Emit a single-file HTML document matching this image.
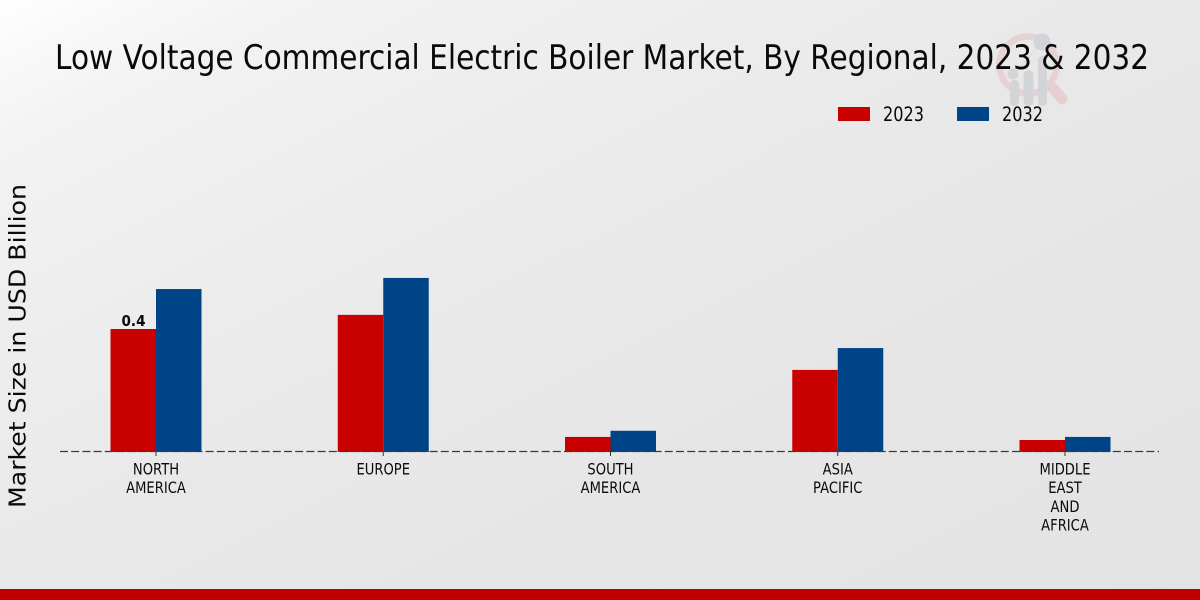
<!DOCTYPE html>
<html lang="en">
<head>
<meta charset="utf-8">
<title>Low Voltage Commercial Electric Boiler Market, By Regional, 2023 &amp; 2032</title>
<style>
html,body{margin:0;padding:0;width:1200px;height:600px;overflow:hidden;background:#e6e6e6}
svg{display:block}
text{font-family:"DejaVu Sans",sans-serif;fill:#0a0a0a}
</style>
</head>
<body>
<svg id="chart" width="1200" height="600" viewBox="0 0 1200 600" xmlns="http://www.w3.org/2000/svg">
  <defs>
    <linearGradient id="bg" x1="0" y1="0" x2="480" y2="960" gradientUnits="userSpaceOnUse">
      <stop offset="0" stop-color="#ffffff"/>
      <stop offset="0.06" stop-color="#f8f8f8"/>
      <stop offset="0.14" stop-color="#f2f2f3"/>
      <stop offset="0.27" stop-color="#eeeeef"/>
      <stop offset="0.5" stop-color="#e8e8e8"/>
      <stop offset="1" stop-color="#e3e3e3"/>
    </linearGradient>
  </defs>
  <rect width="1200" height="600" fill="url(#bg)"/>

  <g>
    <circle cx="1028" cy="65" r="28.5" fill="none" stroke="#e6d2d3" stroke-width="6.5"/>
    <line x1="1053" y1="88" x2="1062" y2="99" stroke="#e6cfd0" stroke-width="11" stroke-linecap="round"/>
    <line x1="1013" y1="75" x2="1042" y2="42" stroke="#dcdde0" stroke-width="1.5"/>
    <rect x="1010" y="80" width="9" height="26" rx="4.5" fill="#d2d4d7"/>
    <rect x="1023.5" y="70" width="10" height="36" rx="5" fill="#d2d4d7"/>
    <rect x="1038" y="56" width="9" height="50" rx="4.5" fill="#d2d4d7"/>
    <circle cx="1013" cy="74" r="5.5" fill="#d2d4d7"/>
    <circle cx="1042" cy="42" r="8.5" fill="#d2d4d7"/>
  </g>

  <text x="55" y="69" font-size="34" textLength="1094" lengthAdjust="spacingAndGlyphs">Low Voltage Commercial Electric Boiler Market, By Regional, 2023 &amp; 2032</text>

  <text transform="translate(25.5,508) rotate(-90)" font-size="23" textLength="324" lengthAdjust="spacingAndGlyphs">Market Size in USD Billion</text>

  <g id="bars"></g>

  <line x1="60" y1="451.5" x2="1159" y2="451.5" stroke="#3a3a3a" stroke-width="1.3" stroke-dasharray="8 3.2"/>

  <g id="ticks"></g>

  <text x="121.5" y="326" font-size="15" font-weight="bold" textLength="24" lengthAdjust="spacingAndGlyphs">0.4</text>

  <g>
    <g>
      <rect x="838" y="107" width="32" height="14" fill="#c80000"/>
      <text x="883" y="121" font-size="19.5" textLength="41" lengthAdjust="spacingAndGlyphs">2023</text>
    </g>
    <g>
      <rect x="957" y="107" width="32" height="14" fill="#004488"/>
      <text x="1002" y="121" font-size="19.5" textLength="41" lengthAdjust="spacingAndGlyphs">2032</text>
    </g>
  </g>

  <rect x="0" y="589" width="1200" height="11" fill="#c00000"/>
</svg>
<script>
var categories = [["NORTH","AMERICA"],["EUROPE"],["SOUTH","AMERICA"],["ASIA","PACIFIC"],["MIDDLE","EAST","AND","AFRICA"]];
var values2023 = [0.40, 0.446, 0.049, 0.267, 0.039];
var values2032 = [0.53, 0.566, 0.069, 0.338, 0.049];

var NS = 'http://www.w3.org/2000/svg';
var barsGroup = document.getElementById('bars');
var ticksGroup = document.getElementById('ticks');

function xCenter(i) { return 156 + i * 227.25; }
function yValue(v) { return 452 - v * 307.5; }

function drawBar(i, v, offset, color, seriesName) {
  var r = document.createElementNS(NS, 'rect');
  r.setAttribute('x', xCenter(i) + offset);
  r.setAttribute('y', yValue(v));
  r.setAttribute('width', 45.5);
  r.setAttribute('height', yValue(0) - yValue(v));
  r.setAttribute('fill', color);
  
  
  barsGroup.appendChild(r);
}

categories.forEach(function (lines, i) {
  drawBar(i, values2023[i], -45.5, '#c80000', '2023');
  drawBar(i, values2032[i], 0, '#004488', '2032');

  var t = document.createElementNS(NS, 'line');
  t.setAttribute('x1', xCenter(i));
  t.setAttribute('x2', xCenter(i));
  t.setAttribute('y1', 452);
  t.setAttribute('y2', 456);
  t.setAttribute('stroke', '#333');
  
  
  ticksGroup.appendChild(t);

  lines.forEach(function (line, j) {
    var label = document.createElementNS(NS, 'text');
    label.setAttribute('x', xCenter(i));
    label.setAttribute('y', 474.5 + j * 18.7);
    label.setAttribute('text-anchor', 'middle');
    label.setAttribute('font-size', '16');
    label.setAttribute('transform', 'translate(' + xCenter(i) * 0.18 + ' 0) scale(0.82 1)');
    
    
    label.textContent = line;
    ticksGroup.appendChild(label);
  });
});
</script>
</body>
</html>
